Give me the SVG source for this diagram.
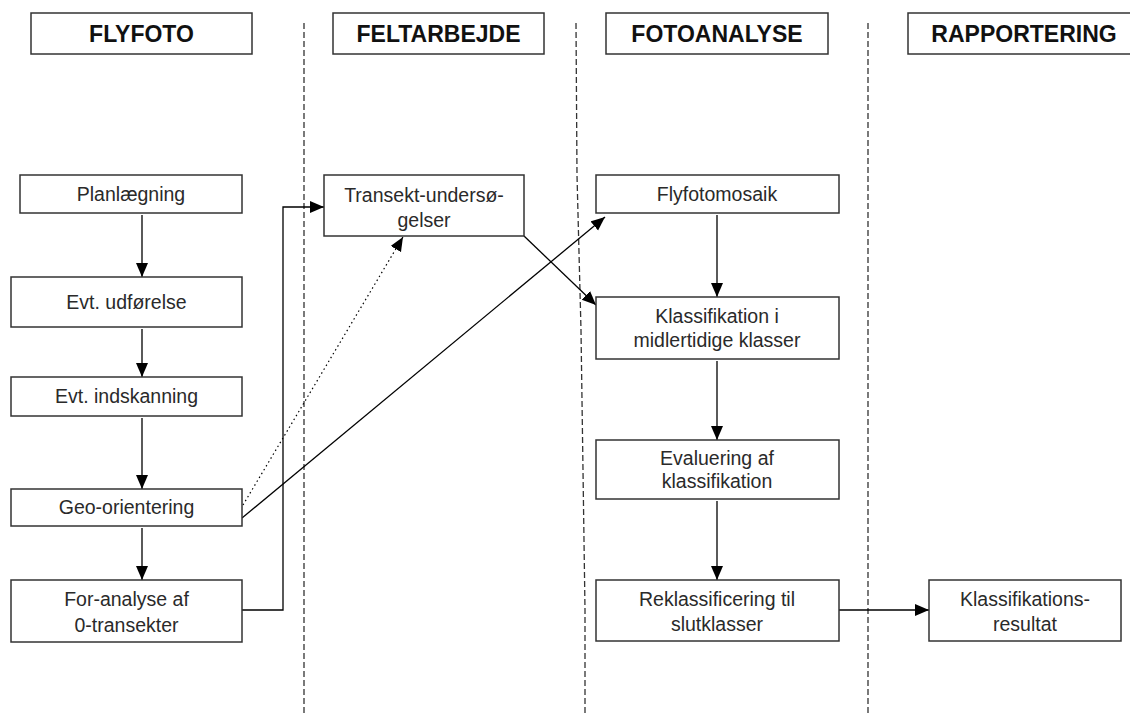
<svg xmlns="http://www.w3.org/2000/svg" width="1130" height="715" viewBox="0 0 1130 715">
  <defs>
    <marker id="ah" markerUnits="userSpaceOnUse" markerWidth="15" markerHeight="13" refX="14" refY="6" orient="auto">
      <path d="M0,0 L14,6 L0,12 z" fill="#000"/>
    </marker>
    <style>
      .hdr { fill: #fff; stroke: #333; stroke-width: 1.5; }
      .box { fill: #fff; stroke: #333; stroke-width: 1.5; }
      .ht { font-family: "Liberation Sans", Arial, sans-serif; font-weight: bold; font-size: 23px; fill: #111; text-anchor: middle; }
      .t { font-family: "Liberation Sans", Arial, sans-serif; font-size: 19.5px; fill: #2a2a2a; text-anchor: middle; }
      .lane { fill: none; stroke: #333; stroke-width: 1.3; stroke-dasharray: 6 3; }
      .c { fill: none; stroke: #000; stroke-width: 1.3; }
      .ca { fill: none; stroke: #000; stroke-width: 1.3; marker-end: url(#ah); }
      .cd { fill: none; stroke: #000; stroke-width: 1.2; stroke-dasharray: 1.5 3; marker-end: url(#ah); }
    </style>
  </defs>
  <rect width="1130" height="715" fill="#fff"/>

  <g id="lanes">
    <line class="lane" x1="304" y1="23" x2="304" y2="715"/>
    <path class="lane" d="M576 23 L577 175 L581 330 L585 610 L585 715"/>
    <line class="lane" x1="868" y1="23" x2="868" y2="715"/>
  </g>

  <g id="hdr-flyfoto">
    <rect class="hdr" x="31" y="13" width="221" height="41"/>
    <text class="ht" x="141.5" y="42">FLYFOTO</text>
  </g>
  <g id="hdr-feltarbejde">
    <rect class="hdr" x="333" y="13" width="211" height="41"/>
    <text class="ht" x="438.5" y="42">FELTARBEJDE</text>
  </g>
  <g id="hdr-fotoanalyse">
    <rect class="hdr" x="606" y="13" width="222" height="41"/>
    <text class="ht" x="717" y="42">FOTOANALYSE</text>
  </g>
  <g id="hdr-rapportering">
    <rect class="hdr" x="908" y="13" width="232" height="41"/>
    <text class="ht" x="1024" y="42">RAPPORTERING</text>
  </g>

  <g id="connectors">
    <line class="ca" x1="142" y1="215" x2="142" y2="277"/>
    <line class="ca" x1="142" y1="329" x2="142" y2="377"/>
    <line class="ca" x1="142" y1="418" x2="142" y2="489"/>
    <line class="ca" x1="142" y1="528" x2="142" y2="580"/>
    <polyline class="ca" points="242,610 283,610 283,207 324,207"/>
    <line class="cd" x1="243" y1="505" x2="403" y2="237"/>
    <line class="ca" x1="242" y1="518" x2="605" y2="217"/>
    <line class="ca" x1="524" y1="236" x2="596" y2="305"/>
    <line class="ca" x1="717" y1="215" x2="717" y2="297"/>
    <line class="ca" x1="717" y1="361" x2="717" y2="440"/>
    <line class="ca" x1="717" y1="501" x2="717" y2="580"/>
    <line class="ca" x1="839" y1="610" x2="929" y2="610"/>
  </g>

  <g id="planlaegning">
    <rect class="box" x="20" y="175" width="222" height="38"/>
    <text class="t" x="131" y="201">Planlægning</text>
  </g>
  <g id="udfoerelse">
    <rect class="box" x="11" y="277" width="231" height="50"/>
    <text class="t" x="126.5" y="309">Evt. udførelse</text>
  </g>
  <g id="indskanning">
    <rect class="box" x="11" y="377" width="231" height="39"/>
    <text class="t" x="126.5" y="403">Evt. indskanning</text>
  </g>
  <g id="geo-orientering">
    <rect class="box" x="11" y="489" width="231" height="37"/>
    <text class="t" x="126.5" y="514">Geo-orientering</text>
  </g>
  <g id="for-analyse">
    <rect class="box" x="11" y="580" width="231" height="62"/>
    <text class="t" x="126.5" y="606">For-analyse af</text>
    <text class="t" x="126.5" y="632">0-transekter</text>
  </g>
  <g id="transekt">
    <rect class="box" x="324" y="175" width="200" height="61"/>
    <text class="t" x="424" y="202">Transekt-undersø-</text>
    <text class="t" x="424" y="227">gelser</text>
  </g>
  <g id="flyfotomosaik">
    <rect class="box" x="596" y="175" width="243" height="38"/>
    <text class="t" x="717" y="201">Flyfotomosaik</text>
  </g>
  <g id="klassifikation">
    <rect class="box" x="596" y="297" width="243" height="62"/>
    <text class="t" x="717" y="323">Klassifikation i</text>
    <text class="t" x="717" y="347">midlertidige klasser</text>
  </g>
  <g id="evaluering">
    <rect class="box" x="596" y="440" width="243" height="59"/>
    <text class="t" x="717" y="465">Evaluering af</text>
    <text class="t" x="717" y="488">klassifikation</text>
  </g>
  <g id="reklassificering">
    <rect class="box" x="596" y="580" width="243" height="61"/>
    <text class="t" x="717" y="606">Reklassificering til</text>
    <text class="t" x="717" y="631">slutklasser</text>
  </g>
  <g id="resultat">
    <rect class="box" x="929" y="580" width="192" height="61"/>
    <text class="t" x="1025" y="606">Klassifikations-</text>
    <text class="t" x="1025" y="631">resultat</text>
  </g>
</svg>
